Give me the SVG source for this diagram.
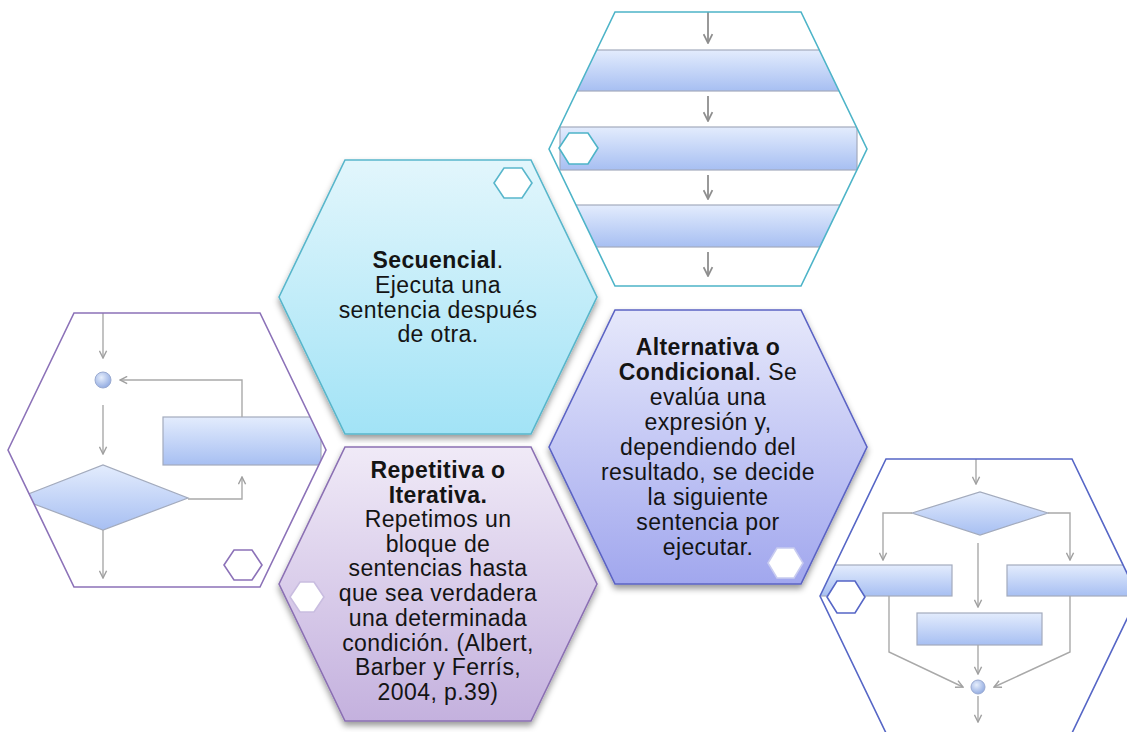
<svg xmlns="http://www.w3.org/2000/svg" width="1127" height="732" viewBox="0 0 1127 732">
<style>
.txt{font-family:"Liberation Sans",Arial,sans-serif;font-size:23px;letter-spacing:0.4px;fill:#141414;text-anchor:middle}
.b{font-weight:bold}
.conn{fill:none;stroke:#a9a9a9;stroke-width:1.4}
.conn2{fill:none;stroke:#8e8e8e;stroke-width:1.8}
.bar{fill:url(#pbar);stroke:#a3abbd;stroke-width:1.2}
.mini{stroke-width:1.6}
.halo{fill:none;stroke:#ffffff;stroke-width:7}
</style>
<defs>
<linearGradient id="pbar" x1="0" y1="0" x2="0" y2="1"><stop offset="0" stop-color="#e3ecfd"/><stop offset="1" stop-color="#a7bff2"/></linearGradient>
<linearGradient id="gSec" x1="0" y1="0" x2="0" y2="1"><stop offset="0" stop-color="#e2f6fc"/><stop offset="1" stop-color="#a2e3f6"/></linearGradient>
<linearGradient id="gRep" x1="0" y1="0" x2="0" y2="1"><stop offset="0" stop-color="#f0eaf7"/><stop offset="1" stop-color="#c4b1de"/></linearGradient>
<linearGradient id="gAlt" x1="0" y1="0" x2="0" y2="1"><stop offset="0" stop-color="#e6e8fb"/><stop offset="1" stop-color="#a1a7ee"/></linearGradient>
<radialGradient id="gDot" cx="0.4" cy="0.35" r="0.7"><stop offset="0" stop-color="#e6eefc"/><stop offset="1" stop-color="#8ea8e0"/></radialGradient>
<filter id="sh" x="-10%" y="-10%" width="120%" height="125%"><feDropShadow dx="0" dy="4" stdDeviation="3" flood-color="#000" flood-opacity="0.4"/></filter>
<marker id="arr" viewBox="0 0 10 10" refX="9" refY="5" markerWidth="9" markerHeight="9" markerUnits="userSpaceOnUse" orient="auto"><path d="M1,1 L9,5 L1,9" fill="none" stroke="#a0a0a0" stroke-width="1.6"/></marker>
<marker id="arr2" viewBox="0 0 10 10" refX="9" refY="5" markerWidth="11" markerHeight="11" markerUnits="userSpaceOnUse" orient="auto"><path d="M1,1 L9,5 L1,9" fill="none" stroke="#8e8e8e" stroke-width="1.6"/></marker>
<clipPath id="cTR"><polygon points="549,149 615,12 801,12 867,149 801,286 615,286"/></clipPath>
<clipPath id="cL"><polygon points="8,450 74,313 260,313 326,450 260,587 74,587"/></clipPath>
<clipPath id="cBR"><polygon points="820,596 886,459 1072,459 1138,596 1072,733 886,733"/></clipPath>
</defs>
<rect width="1127" height="732" fill="#ffffff"/>

<!-- Picture: sequence (top right) -->
<g id="pic-sequence">
<polygon points="549,149 615,12 801,12 867,149 801,286 615,286" fill="#ffffff"/>
<g clip-path="url(#cTR)">
<rect class="bar" x="530" y="50" width="360" height="41"/>
<rect class="bar" x="560" y="127" width="297" height="43"/>
<rect class="bar" x="530" y="205" width="360" height="42"/>
<g id="seq-arrows">
<line class="conn2" x1="708" y1="12" x2="708" y2="43" marker-end="url(#arr2)"/>
<line class="conn2" x1="708" y1="96" x2="708" y2="121" marker-end="url(#arr2)"/>
<line class="conn2" x1="708" y1="175" x2="708" y2="199" marker-end="url(#arr2)"/>
<line class="conn2" x1="708" y1="252" x2="708" y2="276" marker-end="url(#arr2)"/>
</g>
</g>
<polygon points="549,149 615,12 801,12 867,149 801,286 615,286" fill="none" stroke="#4db4c8" stroke-width="1.6"/>
<polygon class="mini" points="559,148 569,133 588,133 598,148 588,164 569,164" fill="#ffffff" stroke="#4db4c8"/>
</g>

<!-- Picture: loop (left) -->
<g id="pic-loop">
<polygon points="8,450 74,313 260,313 326,450 260,587 74,587" fill="#ffffff"/>
<g clip-path="url(#cL)">
<rect class="bar" x="163" y="417" width="158" height="48"/>
<polygon points="18,498 103,465 188,498 103,530" fill="url(#pbar)" stroke="#a3abbd" stroke-width="1.2"/>
<circle cx="103" cy="380" r="8" fill="url(#gDot)" stroke="#9aaad0" stroke-width="1"/>
<g id="loop-arrows">
<line class="conn" x1="103" y1="313" x2="103" y2="358" marker-end="url(#arr)"/>
<line class="conn" x1="103" y1="405" x2="103" y2="454" marker-end="url(#arr)"/>
<line class="conn" x1="103" y1="530" x2="103" y2="578" marker-end="url(#arr)"/>
<polyline class="conn" points="188,499 242,499 242,477" marker-end="url(#arr)"/>
<polyline class="conn" points="242,417 242,380 120,380" marker-end="url(#arr)"/>
</g>
</g>
<polygon points="8,450 74,313 260,313 326,450 260,587 74,587" fill="none" stroke="#8c72b8" stroke-width="1.6"/>
<polygon class="mini" points="224,565 234,550 252,550 262,565 252,580 234,580" fill="#ffffff" stroke="#8c72b8"/>
</g>

<!-- Picture: alternative (bottom right) -->
<g id="pic-alternative">
<polygon points="820,596 886,459 1072,459 1138,596 1072,733 886,733" fill="#ffffff"/>
<g clip-path="url(#cBR)">
<rect class="bar" x="812" y="565" width="140" height="31"/>
<rect class="bar" x="1007" y="565" width="140" height="31"/>
<rect class="bar" x="917" y="613" width="125" height="32"/>
<polygon points="912,513 980,492 1048,513 980,535" fill="url(#pbar)" stroke="#a3abbd" stroke-width="1.2"/>
<circle cx="978" cy="687" r="7" fill="url(#gDot)" stroke="#9aaad0" stroke-width="1"/>
<g id="alt-arrows">
<line class="conn" x1="976" y1="459" x2="976" y2="484" marker-end="url(#arr)"/>
<polyline class="conn" points="912,513 883,513 883,560" marker-end="url(#arr)"/>
<polyline class="conn" points="1048,513 1070,513 1070,560" marker-end="url(#arr)"/>
<line class="conn" x1="978" y1="543" x2="978" y2="607" marker-end="url(#arr)"/>
<polyline class="conn" points="889,596 889,652 963,687" marker-end="url(#arr)"/>
<polyline class="conn" points="1070,596 1070,652 994,687" marker-end="url(#arr)"/>
<line class="conn" x1="978" y1="645" x2="978" y2="674" marker-end="url(#arr)"/>
<line class="conn" x1="978" y1="696" x2="978" y2="722" marker-end="url(#arr)"/>
</g>
</g>
<polygon points="820,596 886,459 1072,459 1138,596 1072,733 886,733" fill="none" stroke="#5666c6" stroke-width="1.6"/>
<polygon class="mini" points="827,597 837,581 855,581 865,597 855,613 837,613" fill="#ffffff" stroke="#5666c6"/>
</g>

<!-- Secuencial -->
<g id="node-secuencial">
<polygon class="halo" points="279,297 345,160 531,160 597,297 531,434 345,434"/>
<polygon points="279,297 345,160 531,160 597,297 531,434 345,434" fill="url(#gSec)" stroke="#58b6cb" stroke-width="1.6" filter="url(#sh)"/>
<polygon class="mini" points="494,183 504,168 522,168 532,183 522,198 504,198" fill="#ffffff" stroke="#58b6cb"/>
<text class="txt" x="438" y="268"><tspan class="b">Secuencial</tspan>.</text>
<text class="txt" x="438" y="293">Ejecuta una</text>
<text class="txt" x="438" y="318">sentencia después</text>
<text class="txt" x="438" y="342">de otra.</text>
</g>

<!-- Repetitiva -->
<g id="node-repetitiva">
<polygon class="halo" points="279,584 345,447 531,447 597,584 531,721 345,721"/>
<polygon points="279,584 345,447 531,447 597,584 531,721 345,721" fill="url(#gRep)" stroke="#8b70b3" stroke-width="1.6" filter="url(#sh)"/>
<polygon class="mini" points="290,597 300,582 314,582 324,597 314,612 300,612" fill="#ffffff" stroke="#c9bde0"/>
<text class="txt b" x="438" y="478">Repetitiva o</text>
<text class="txt b" x="438" y="503">Iterativa.</text>
<text class="txt" x="438" y="527">Repetimos un</text>
<text class="txt" x="438" y="552">bloque de</text>
<text class="txt" x="438" y="576">sentencias hasta</text>
<text class="txt" x="438" y="601">que sea verdadera</text>
<text class="txt" x="438" y="626">una determinada</text>
<text class="txt" x="438" y="651">condición. (Albert,</text>
<text class="txt" x="438" y="675">Barber y Ferrís,</text>
<text class="txt" x="438" y="700">2004, p.39)</text>
</g>

<!-- Alternativa -->
<g id="node-alternativa">
<polygon class="halo" points="549,447 615,310 801,310 867,447 801,584 615,584"/>
<polygon points="549,447 615,310 801,310 867,447 801,584 615,584" fill="url(#gAlt)" stroke="#5b63c4" stroke-width="1.6" filter="url(#sh)"/>
<polygon class="mini" points="768,563 777,548 794,548 803,563 794,578 777,578" fill="#ffffff" stroke="#c8cbf0"/>
<text class="txt b" x="708" y="355">Alternativa o</text>
<text class="txt" x="708" y="380"><tspan class="b">Condicional</tspan>. Se</text>
<text class="txt" x="708" y="405">evalúa una</text>
<text class="txt" x="708" y="430">expresión y,</text>
<text class="txt" x="708" y="455">dependiendo del</text>
<text class="txt" x="708" y="480">resultado, se decide</text>
<text class="txt" x="708" y="505">la siguiente</text>
<text class="txt" x="708" y="530">sentencia por</text>
<text class="txt" x="708" y="555">ejecutar.</text>
</g>

<g id="connectors"></g>
</svg>
